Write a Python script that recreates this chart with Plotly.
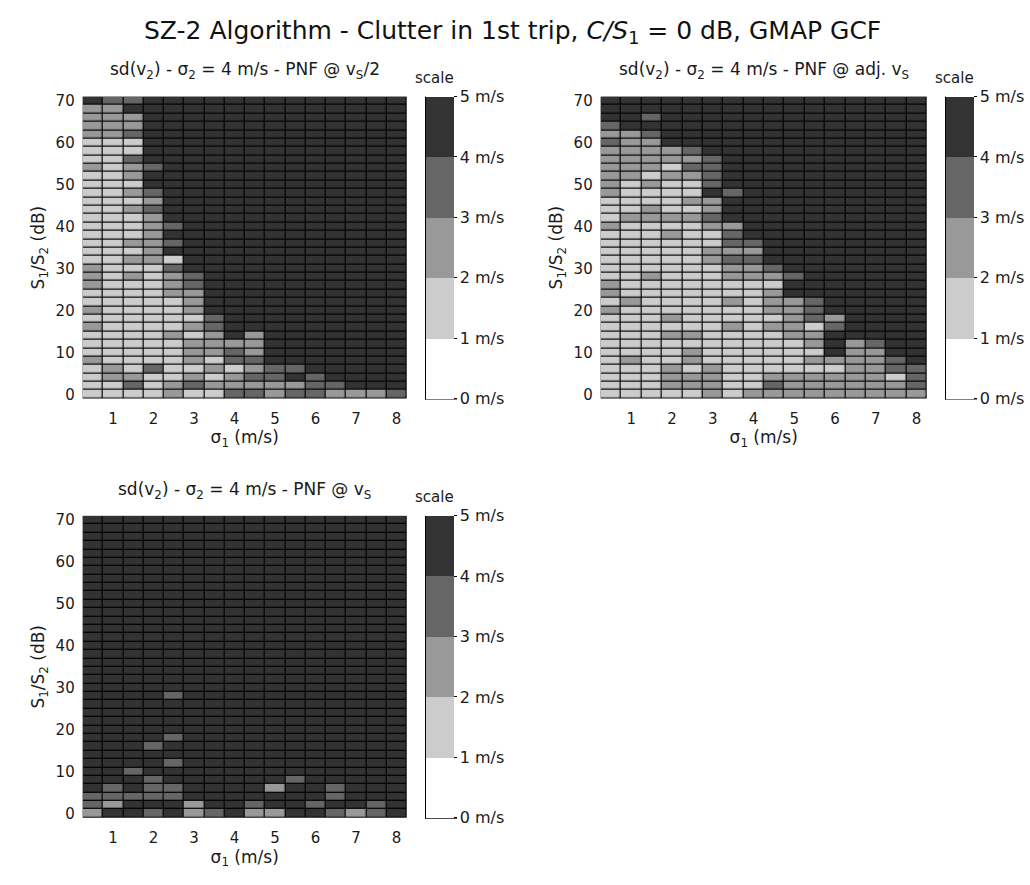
import plotly.graph_objects as go

# grid coordinates
sigma1 = [0.5, 1.0, 1.5, 2.0, 2.5, 3.0, 3.5, 4.0, 4.5, 5.0, 5.5, 6.0, 6.5, 7.0, 7.5, 8.0]
snr_db = [70, 68, 66, 64, 62, 60, 58, 56, 54, 52, 50, 48, 46, 44, 42, 40, 38, 36,
          34, 32, 30, 28, 26, 24, 22, 20, 18, 16, 14, 12, 10, 8, 6, 4, 2, 0]

# estimated sd(v2) band per cell (digit d means d-1 .. d m/s), rows from 70 dB down to 0 dB
panel_vs2 = [
    "5445555555555555", "3355555555555555", "3335555555555555", "3335555555555555",
    "3345555555555555", "2225555555555555", "2225555555555555", "2245555555555555",
    "3234555555555555", "2235555555555555", "2225555555555555", "2234555555555555",
    "2223555555555555", "2234555555555555", "2223555555555555", "2223455555555555",
    "2223555555555555", "2233455555555555", "2223555555555555", "2233255555555555",
    "3222455555555555", "3232345555555555", "3222345555555555", "2222335555555555",
    "2222235555555555", "3222235555555555", "2222224555555555", "3222234555555555",
    "2222323535555555", "2222233335555555", "2222233435555555", "3222232445555555",
    "2324223234455555", "2332232344545555", "2242343333344555", "2222322443443334",
]
panel_adj = [
    "5555555555555555", "5555555555555555", "5545555555555555", "4555555555555555",
    "3345555555555555", "4335555555555555", "3333455555555555", "3333345555555555",
    "3332445555555555", "3323345555555555", "3232245555555555", "3222254555555555",
    "2222335555555555", "2232235555555555", "2333345555555555", "3222233555555555",
    "2223224555555555", "2222224455555555", "2222233355555555", "2222234455555555",
    "2222223345555555", "2232223334555555", "3222222225555555", "3222222235555555",
    "2322223233455555", "3222222233455555", "2223222223435555", "2222223233245555",
    "2223322223355555", "2222222222353455", "2222322222253355", "2322322222333345",
    "2223232222223344", "2223332233333324", "2223332243333334", "2222232333333333",
]
panel_vs = [
    "5555555555555555", "5555555555555555", "5555555555555555", "5555555555555555",
    "5555555555555555", "5555555555555555", "5555555555555555", "5555555555555555",
    "5555555555555555", "5555555555555555", "5555555555555555", "5555555555555555",
    "5555555555555555", "5555555555555555", "5555555555555555", "5555555555555555",
    "5555555555555555", "5555555555555555", "5555555555555555", "5555555555555555",
    "5555555555555555", "5555455555555555", "5555555555555555", "5555555555555555",
    "5555555555555555", "5555555555555555", "5555455555555555", "5554555555555555",
    "5555555555555555", "5555455555555555", "5545555555555555", "5554555555455555",
    "5454455553554555", "4444455555554555", "4355535545545545", "3554534533554345",
]

band_labels = ["0 m/s", "1 m/s", "2 m/s", "3 m/s", "4 m/s", "5 m/s"]
band_values = [0, 1, 2, 3, 4, 5]
titles = [
    "sd(v<sub>2</sub>) - σ<sub>2</sub> = 4 m/s - PNF @ v<sub>S</sub>/2",
    "sd(v<sub>2</sub>) - σ<sub>2</sub> = 4 m/s - PNF @ adj. v<sub>S</sub>",
    "sd(v<sub>2</sub>) - σ<sub>2</sub> = 4 m/s - PNF @ v<sub>S</sub>",
]

W, H = 1030, 885
FONT = "DejaVu Sans, Arial, sans-serif"
TXT = "#1a1a1a"
colorscale = [
    [0.0, "#ffffff"], [0.2, "#ffffff"],
    [0.2, "#cccccc"], [0.4, "#cccccc"],
    [0.4, "#999999"], [0.6, "#999999"],
    [0.6, "#666666"], [0.8, "#666666"],
    [0.8, "#333333"], [1.0, "#333333"],
]

# panel pixel boxes: (left, right, top, bottom)
boxes = [(82.7, 406.7, 92.7, 398.0), (600.7, 926.7, 92.7, 398.0), (82.7, 406.7, 516.7, 822.0)]
panels = [panel_vs2, panel_adj, panel_vs]

fig = go.Figure()
annotations = []
shapes = []
for i, (grid, box) in enumerate(zip(panels, boxes)):
    l, r, t, b = box
    z = [[int(ch) - 0.5 for ch in row] for row in grid]
    sfx = "" if i == 0 else str(i + 1)
    cb_left = round(r + 19.5)
    fig.add_trace(go.Heatmap(
        x=sigma1, y=snr_db, z=z, zmin=0, zmax=5, colorscale=colorscale,
        xgap=1.2, ygap=1.2,
        xaxis="x" + sfx, yaxis="y" + sfx,
        colorbar=dict(
            x=cb_left / W, xanchor="left", xpad=0, ypad=0,
            y=1 - (t + b) / 2 / H, yanchor="middle",
            len=(b - t) / H, lenmode="fraction", thickness=28,
            outlinewidth=0,
            tickvals=band_values, ticktext=band_labels,
            ticks="outside", ticklen=3, tickcolor="black",
            tickfont=dict(family=FONT, size=16, color=TXT),
        ),
        hoverinfo="skip",
    ))
    # colorbar frame: left edge and bottom edge, drawn just outside the bar
    shapes.append(dict(type="line", xref="paper", yref="paper",
                       x0=(cb_left - 0.5) / W, x1=(cb_left - 0.5) / W,
                       y0=1 - (b + 1) / H, y1=1 - t / H,
                       line=dict(color="black", width=1)))
    shapes.append(dict(type="line", xref="paper", yref="paper",
                       x0=(cb_left - 1) / W, x1=(cb_left + 31) / W,
                       y0=1 - (b + 0.5) / H, y1=1 - (b + 0.5) / H,
                       line=dict(color="black", width=1)))
    common_x = dict(
        domain=[l / W, r / W], range=[0.25, 8.25], tickvals=[1, 2, 3, 4, 5, 6, 7, 8],
        showgrid=False, zeroline=False, showline=False,
        ticks="outside", ticklen=6, tickcolor="rgba(0,0,0,0)",
        tickfont=dict(family=FONT, size=15, color=TXT),
        title=dict(text="σ<sub>1</sub> (m/s)", font=dict(family=FONT, size=17, color=TXT), standoff=4),
        anchor="y" + sfx,
    )
    common_y = dict(
        domain=[1 - b / H, 1 - t / H], range=[-1, 71], tickvals=[0, 10, 20, 30, 40, 50, 60, 70],
        showgrid=False, zeroline=False, showline=False,
        ticks="outside", ticklen=4, tickcolor="rgba(0,0,0,0)",
        tickfont=dict(family=FONT, size=15, color=TXT),
        title=dict(text="S<sub>1</sub>/S<sub>2</sub> (dB)", font=dict(family=FONT, size=17, color=TXT), standoff=6),
        anchor="x" + sfx,
    )
    fig.update_layout(**{"xaxis" + sfx: common_x, "yaxis" + sfx: common_y})
    annotations.append(dict(
        text=titles[i], x=(l + r) / 2 / W, y=1 - (t - 26) / H, xref="paper", yref="paper",
        xanchor="center", yanchor="middle", showarrow=False,
        font=dict(family=FONT, size=17, color=TXT),
    ))
    annotations.append(dict(
        text="scale", x=(r + 28) / W, y=1 - (t - 19) / H, xref="paper", yref="paper",
        xanchor="center", yanchor="middle", showarrow=False,
        font=dict(family=FONT, size=15, color=TXT),
    ))

annotations.append(dict(
    text="SZ-2 Algorithm - Clutter in 1st trip, <i>C/S</i><sub>1</sub> = 0 dB, GMAP GCF",
    x=512 / W, y=1 - 27 / H, xref="paper", yref="paper", xanchor="center", yanchor="middle",
    showarrow=False, font=dict(family=FONT, size=25, color="#111"),
))

fig.update_layout(
    width=W, height=H, margin=dict(l=0, r=0, t=0, b=0),
    paper_bgcolor="white", plot_bgcolor="black",
    annotations=annotations, shapes=shapes, showlegend=False,
)
fig.write_html("out.html")
